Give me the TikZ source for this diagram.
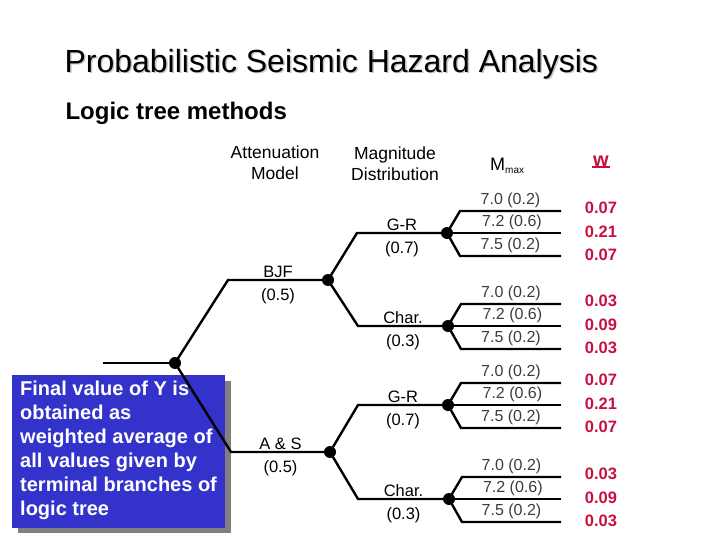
\documentclass[tikz,border=0pt]{standalone}
\usepackage{fontspec}
\setmainfont{Liberation Sans}
\usepackage{xcolor}
\usepackage{tikz}
\usetikzlibrary{positioning,calc}
\definecolor{notebg}{RGB}{51,51,204}
\definecolor{wred}{RGB}{200,16,64}
\definecolor{thingray}{RGB}{60,60,60}
\newcommand{\fsz}[1]{\fontsize{#1}{1.2\dimexpr#1pt\relax}\selectfont}

\begin{document}
\begin{tikzpicture}[x=1pt,y=-1pt,
  branch/.style={line width=2.4pt},
  knot/.style={circle,fill=black,inner sep=0pt,minimum size=12pt},
  brlabel/.style={font=\fsz{16.5},inner sep=1pt},
  mlabel/.style={font=\fsz{16},text=thingray,inner sep=1.5pt},
  wval/.style={font=\bfseries\fsz{16.5},text=wred}]
  \useasboundingbox (0,0) rectangle (720,540);
  % titles
  \node[anchor=west,text=gray!45,font=\fsz{32}] (titlesh) at (62.5,65.5) {Probabilistic Seismic Hazard Analysis};
  \node[anchor=west,font=\fsz{32}] (title) at (61,64) {Probabilistic Seismic Hazard Analysis};
  \node[anchor=west,font=\bfseries\fsz{24}] (sub) at (62,113) {Logic tree methods};
  % column headings
  \node[font=\fsz{17.5},align=center] (hatt) at (275,163) {Attenuation\\Model};
  \node[font=\fsz{17.5},align=center] (hmag) at (395,164) {Magnitude\\Distribution};
  \node[font=\fsz{18},anchor=west,inner sep=0pt] (hmax) at (490,166) {M\raisebox{-3pt}{\fsz{10}max}};
  \node[font=\bfseries\fsz{20},text=wred,inner sep=1pt] (hw) at (601,161) {w};
  \draw[wred,line width=2pt] (hw.south west) -- (hw.south east);
  % note box with shadow
  \fill[gray] (18,381) rectangle (231,533);
  \fill[notebg] (12,375) rectangle (225,528);
  \node[anchor=north west,align=left,text=white,inner sep=0pt,
    font=\bfseries\fontsize{20}{24}\selectfont]
    (note) at (20,381) {Final value of Y is\\obtained as\\weighted average of\\all values given by\\terminal branches of\\logic tree};
  % tree points
  \coordinate (r0) at (103,363);
  \node[knot] (r) at (175,363) {};
  \coordinate (b0) at (228,280);
  \node[knot] (b) at (328,280) {};
  \coordinate (a0) at (231,452);
  \node[knot] (a) at (330,452) {};
  \coordinate (b1s) at (357,233);
  \node[knot] (b1) at (447,233) {};
  \coordinate (b2s) at (358,326);
  \node[knot] (b2) at (448,326) {};
  \coordinate (a1s) at (358,405);
  \node[knot] (a1) at (448,405) {};
  \coordinate (a2s) at (358,499);
  \node[knot] (a2) at (449,499) {};
  % attenuation branches
  \draw[branch] (r0) -- (r.center);
  \draw[branch] (r.center) -- (b0) -- node[brlabel,above=0pt]{BJF} node[brlabel,below=6pt]{(0.5)} (b.center);
  \draw[branch] (r.center) -- (a0) -- node[brlabel,above=0pt]{A \& S} node[brlabel,below=6pt]{(0.5)} (a.center);
  % magnitude distribution branches
  \draw[branch] (b.center) -- (b1s) -- node[brlabel,above=0pt]{G-R} node[brlabel,below=6pt]{(0.7)} (b1.center);
  \draw[branch] (b.center) -- (b2s) -- node[brlabel,above=0pt]{Char.} node[brlabel,below=6pt]{(0.3)} (b2.center);
  \draw[branch] (a.center) -- (a1s) -- node[brlabel,above=0pt]{G-R} node[brlabel,below=6pt]{(0.7)} (a1.center);
  \draw[branch] (a.center) -- (a2s) -- node[brlabel,above=0pt]{Char.} node[brlabel,below=6pt]{(0.3)} (a2.center);
  % Mmax branches and weights
  \foreach \k/\wa/\wb/\wc in {b1/0.07/0.21/0.07, b2/0.03/0.09/0.03, a1/0.07/0.21/0.07, a2/0.03/0.09/0.03}{
    \coordinate (\k u) at ($(\k)+(13,-22)$);
    \coordinate (\k d) at ($(\k)+(13,23)$);
    \coordinate (\k ue) at (\k u -| 561,0);
    \coordinate (\k me) at (\k -| 561,0);
    \coordinate (\k de) at (\k d -| 561,0);
    \draw[branch] (\k.center) -- (\k u) -- node[mlabel,above]{7.0 (0.2)} (\k ue);
    \draw[branch] (\k.center) -- node[mlabel,above,pos=0.57]{7.2 (0.6)} (\k me);
    \draw[branch] (\k.center) -- (\k d) -- node[mlabel,above]{7.5 (0.2)} (\k de);
    \node[wval] (\k w1) at ($(\k ue -| 601,0)+(0,-3)$) {\wa};
    \node[wval] (\k w2) at ($(\k me -| 601,0)+(0,-1)$) {\wb};
    \node[wval] (\k w3) at ($(\k de -| 601,0)+(0,-1)$) {\wc};
  }
\end{tikzpicture}
\end{document}
